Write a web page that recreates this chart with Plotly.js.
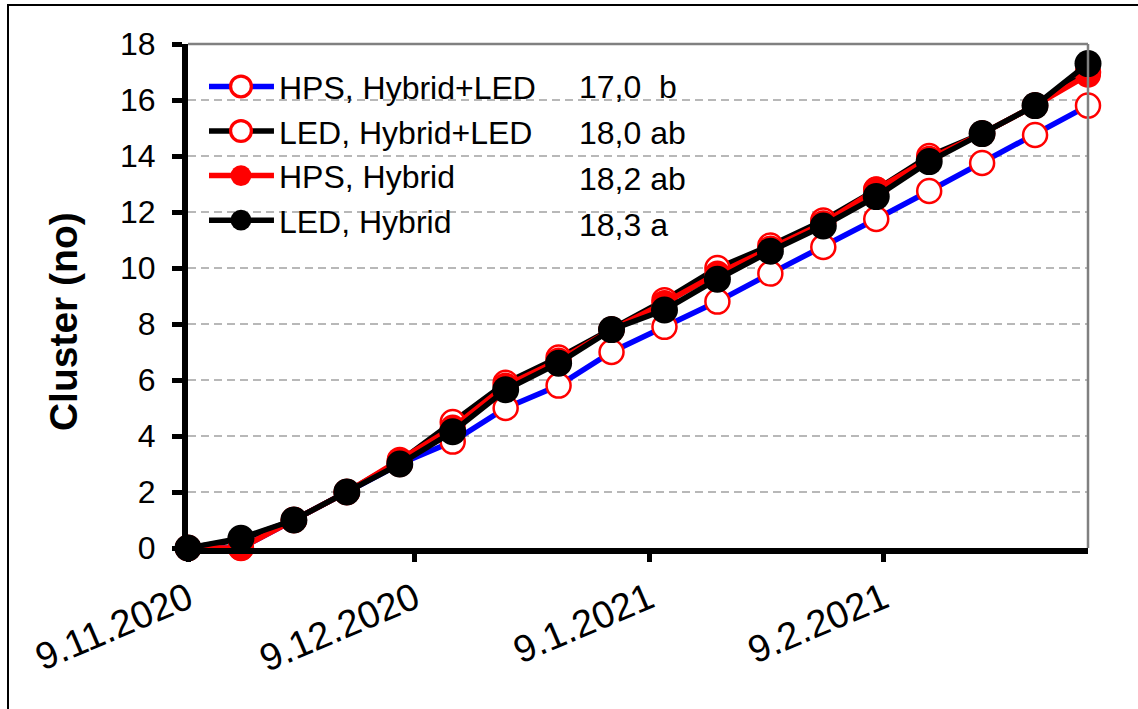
<!DOCTYPE html>
<html>
<head>
<meta charset="utf-8">
<script src="https://cdn.plot.ly/plotly-3.0.1.min.js"></script>
<style>
html,body{margin:0;padding:0;background:#fff;}
#wrap{position:relative;width:1138px;height:709px;}
#chart{width:1138px;height:709px;}
#frame{position:absolute;left:7px;top:4px;width:1200px;height:800px;border-top:2px solid #000;border-left:2px solid #000;pointer-events:none;}
</style>
</head>
<body>
<div id="wrap"><div id="chart"></div><div id="frame"></div></div>
<script>
const dates = ["2020-11-09","2020-11-16","2020-11-23","2020-11-30","2020-12-07","2020-12-14","2020-12-21","2020-12-28","2021-01-04","2021-01-11","2021-01-18","2021-01-25","2021-02-01","2021-02-08","2021-02-15","2021-02-22","2021-03-01","2021-03-08"];
const hpsHybridLed = [0,0,1,2,3,3.8,5.0,5.8,7.0,7.9,8.8,9.8,10.75,11.75,12.75,13.75,14.75,15.8];
const ledHybridLed = [0,0.3,1,2,3.1,4.5,5.9,6.8,7.8,8.85,10.0,10.8,11.7,12.8,14.0,14.8,15.8,17.0];
const hpsHybrid    = [0,0,1,2,3.15,4.3,5.8,6.7,7.8,8.75,9.8,10.7,11.6,12.8,13.9,14.8,15.8,16.9];
const ledHybrid    = [0,0.35,1,2,3.0,4.15,5.65,6.6,7.8,8.5,9.6,10.6,11.5,12.55,13.8,14.8,15.8,17.3];
const seriesNames = ["HPS, Hybrid+LED","LED, Hybrid+LED","HPS, Hybrid","LED, Hybrid"];
const statLabels = ["17,0\u00A0\u00A0b","18,0 ab","18,2 ab","18,3 a"];
const tickVals = ["2020-11-09","2020-12-09","2021-01-09","2021-02-09"];
const tickTexts = ["9.11.2020","9.12.2020","9.1.2021","9.2.2021"];
const yTitle = "Cluster (no)";

const FONT = "Liberation Sans, Arial, sans-serif";

const traces = [
  {x:dates, y:hpsHybridLed, name:seriesNames[0], legendgroup:"a", mode:"lines+markers", cliponaxis:false,
   line:{color:"#0000ff", width:5.5},
   marker:{symbol:"circle", size:24, color:"#ffffff", line:{color:"#ff0000", width:2.5}}},
  {x:dates, y:ledHybridLed, name:seriesNames[1], legendgroup:"b", mode:"lines+markers", cliponaxis:false,
   line:{color:"#000000", width:5.5},
   marker:{symbol:"circle", size:24, color:"#ffffff", line:{color:"#ff0000", width:2.5}}},
  {x:dates, y:hpsHybrid, name:seriesNames[2], legendgroup:"c", mode:"lines+markers", cliponaxis:false,
   line:{color:"#ff0000", width:5.5},
   marker:{symbol:"circle", size:26, color:"#ff0000"}},
  {x:dates, y:ledHybrid, name:seriesNames[3], legendgroup:"d", mode:"lines+markers", cliponaxis:false,
   line:{color:"#000000", width:5.5},
   marker:{symbol:"circle", size:27, color:"#000000"}}
];

const rowY = [0.915, 0.823, 0.733, 0.641];
const annotations = statLabels.map((t,i)=>({
  text:t, xref:"paper", yref:"paper", x:0.432, y:rowY[i], xanchor:"left", yanchor:"middle",
  showarrow:false, font:{family:FONT, size:32, color:"#000"}
}));
annotations.push({
  text:"<b>"+yTitle+"</b>", xref:"paper", yref:"paper", x:-0.139, y:0.45, xanchor:"center", yanchor:"middle",
  textangle:-90, showarrow:false, font:{family:FONT, size:39, color:"#000"}
});

const layout = {
  width:1138, height:709,
  margin:{l:188, r:50, t:44, b:161},
  paper_bgcolor:"#ffffff", plot_bgcolor:"#ffffff",
  font:{family:FONT, color:"#000"},
  showlegend:true,
  legend:{x:0.0233, y:0.97, xanchor:"left", yanchor:"top", bgcolor:"rgba(0,0,0,0)",
          font:{family:FONT, size:32, color:"#000"}, itemwidth:60, tracegroupgap:5, traceorder:"normal"},
  xaxis:{type:"date", range:["2020-11-09","2021-03-08"], tickmode:"array", tickvals:tickVals, ticktext:tickTexts,
         tickangle:-23, tickfont:{family:FONT, size:38, color:"#000"},
         showgrid:false, zeroline:false, showline:true, linecolor:"#000", linewidth:6,
         ticks:"outside", ticklen:8, tickwidth:5, tickcolor:"#000", ticklabelstandoff:0},
  yaxis:{range:[0,18], dtick:2, tick0:0, tickfont:{family:FONT, size:32, color:"#000"},
         showgrid:true, gridcolor:"#b8b8b8", gridwidth:2, griddash:"8px,5px",
         zeroline:false, showline:true, linecolor:"#000", linewidth:6,
         ticks:"outside", ticklen:10, tickwidth:5, tickcolor:"#000", ticklabelstandoff:10},
  shapes:[
    {type:"line", xref:"paper", yref:"paper", x0:0, x1:1, y0:1, y1:1, line:{color:"#808080", width:2.5}},
    {type:"line", xref:"paper", yref:"paper", x0:1, x1:1, y0:0, y1:1, line:{color:"#808080", width:2.5}}
  ],
  annotations:annotations
};

Plotly.newPlot("chart", traces, layout, {displayModeBar:false, staticPlot:true}).then(function(gd){
  // lengthen legend symbol lines and centre (slightly enlarged) markers on them
  gd.querySelectorAll(".legendlines path").forEach(function(p){ p.setAttribute("d","M0,0h65"); });
  gd.querySelectorAll(".legendpoints path").forEach(function(p){ p.setAttribute("transform","translate(32,0) scale(1.3)"); });
});
</script>
</body>
</html>
